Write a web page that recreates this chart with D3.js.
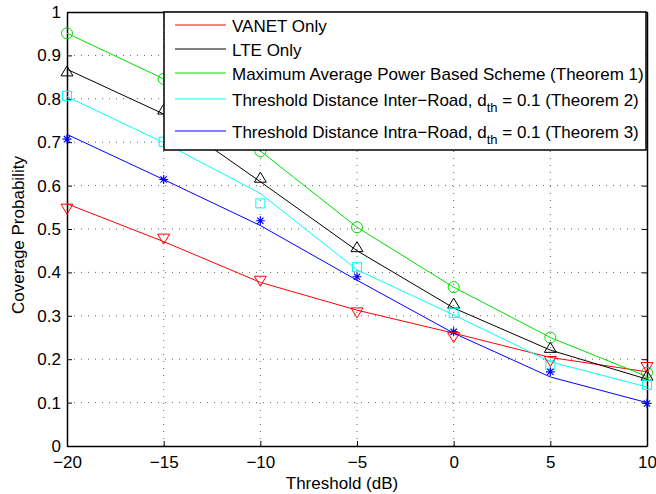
<!DOCTYPE html>
<html>
<head>
<meta charset="utf-8">
<script src="https://cdn.jsdelivr.net/npm/d3@7"></script>
<style>
  html, body { margin: 0; padding: 0; background: #fff; }
  svg { display: block; font-family: "Liberation Sans", Arial, Helvetica, sans-serif; }
</style>
</head>
<body>
<svg id="chart" width="656" height="494"></svg>
<script>
// SINR threshold values (dB)
const thresholds = [-20, -15, -10, -5, 0, 5, 10];

// Analytical curves (lines)
const vanetLine   = [0.558, 0.471, 0.377, 0.313, 0.260, 0.204, 0.171];
const lteLine     = [0.868, 0.765, 0.609, 0.450, 0.318, 0.221, 0.154];
const maxPowLine  = [0.951, 0.846, 0.680, 0.504, 0.366, 0.250, 0.160];
const interLine   = [0.805, 0.699, 0.582, 0.406, 0.302, 0.194, 0.136];
const intraLine   = [0.718, 0.614, 0.508, 0.382, 0.260, 0.159, 0.100];

// Simulation results (markers)
const vanetSim    = [0.548, 0.479, 0.382, 0.309, 0.252, 0.197, 0.183];
const lteSim      = [0.862, 0.774, 0.617, 0.457, 0.327, 0.225, 0.161];
const maxPowSim   = [0.951, 0.846, 0.679, 0.504, 0.366, 0.250, 0.169];
const interSim    = [0.807, 0.701, 0.559, 0.412, 0.307, 0.187, 0.141];
const intraSim    = [0.707, 0.614, 0.519, 0.390, 0.263, 0.171, 0.098];

const xTicks = [-20, -15, -10, -5, 0, 5, 10];
const yTicks = [0, 0.1, 0.2, 0.3, 0.4, 0.5, 0.6, 0.7, 0.8, 0.9, 1];

const series = [
  { name: "VANET Only", color: "#ff0000", line: vanetLine, sim: vanetSim, marker: "triDown" },
  { name: "LTE Only", color: "#000000", line: lteLine, sim: lteSim, marker: "triUp" },
  { name: "Maximum Average Power Based Scheme (Theorem 1)", color: "#00dd00", line: maxPowLine, sim: maxPowSim, marker: "circle" },
  { name: "Threshold Distance Inter\u2212Road, ", sub: true, tail: " = 0.1 (Theorem 2)", color: "#00ffff", line: interLine, sim: interSim, marker: "square" },
  { name: "Threshold Distance Intra\u2212Road, ", sub: true, tail: " = 0.1 (Theorem 3)", color: "#0000ff", line: intraLine, sim: intraSim, marker: "star" }
];

const svg = d3.select("#chart");
const plotL = 67, plotR = 647, plotT = 12, plotB = 446;
const FS = 17;

const x = d3.scaleLinear().domain([-20, 10]).range([plotL, plotR]);
const y = d3.scaleLinear().domain([0, 1]).range([plotB, plotT]);

// dotted grid
const grid = svg.append("g").attr("stroke", "#666").attr("stroke-width", 1)
  .attr("stroke-dasharray", "1,6");
xTicks.slice(1, -1).forEach(t => {
  grid.append("line").attr("x1", x(t)).attr("x2", x(t)).attr("y1", plotB).attr("y2", plotT);
});
yTicks.slice(1, -1).forEach(t => {
  grid.append("line").attr("x1", plotL).attr("x2", plotR).attr("y1", y(t)).attr("y2", y(t));
});

// axes with inward ticks on all four sides
const tickLen = 5;
const axB = svg.append("g").attr("transform", `translate(0,${plotB})`)
  .call(d3.axisBottom(x).tickValues(xTicks).tickSizeInner(-tickLen).tickSizeOuter(0).tickPadding(10)
    .tickFormat(d => d < 0 ? "\u2212" + Math.abs(d) : d));
const axL = svg.append("g").attr("transform", `translate(${plotL},0)`)
  .call(d3.axisLeft(y).tickValues(yTicks).tickSizeInner(-tickLen).tickSizeOuter(0).tickPadding(6)
    .tickFormat(d => d === 0 || d === 1 ? d3.format("d")(d) : d3.format(".1f")(d)));
const axT = svg.append("g").attr("transform", `translate(0,${plotT})`)
  .call(d3.axisTop(x).tickValues(xTicks).tickSizeInner(-tickLen).tickSizeOuter(0).tickFormat(""));
const axR = svg.append("g").attr("transform", `translate(${plotR},0)`)
  .call(d3.axisRight(y).tickValues(yTicks).tickSizeInner(-tickLen).tickSizeOuter(0).tickFormat(""));
[axB, axL, axT, axR].forEach(a => {
  a.selectAll(".domain").attr("stroke", "#000").attr("stroke-width", 1.5);
  a.selectAll(".tick line").attr("stroke", "#000");
  a.selectAll("text").attr("fill", "#000").attr("font-size", FS)
    .attr("font-family", "'Liberation Sans', Arial, sans-serif");
});

// analytical lines
const lineGen = d3.line().x((d, i) => x(thresholds[i])).y(d => y(d));
series.forEach(s => {
  svg.append("path").datum(s.line).attr("d", lineGen)
    .attr("fill", "none").attr("stroke", s.color).attr("stroke-width", 1);
});

// simulation markers
function drawMarker(g, type, cx, cy, color) {
  if (type === "circle") {
    g.append("circle").attr("cx", cx).attr("cy", cy).attr("r", 5.5)
      .attr("fill", "none").attr("stroke", color);
  } else if (type === "square") {
    g.append("rect").attr("x", cx - 4.5).attr("y", cy - 4.5).attr("width", 9).attr("height", 9)
      .attr("fill", "none").attr("stroke", color);
  } else if (type === "triUp") {
    g.append("path").attr("d", `M${cx},${cy - 6}L${cx + 6},${cy + 4}L${cx - 6},${cy + 4}Z`)
      .attr("fill", "none").attr("stroke", color);
  } else if (type === "triDown") {
    g.append("path").attr("d", `M${cx},${cy + 6}L${cx + 6},${cy - 4}L${cx - 6},${cy - 4}Z`)
      .attr("fill", "none").attr("stroke", color);
  } else if (type === "star") {
    const p = 4.5;
    g.append("path")
      .attr("d", `M${cx - p},${cy}L${cx + p},${cy}M${cx},${cy - p}L${cx},${cy + p}` +
        `M${cx - p * 0.7},${cy - p * 0.7}L${cx + p * 0.7},${cy + p * 0.7}` +
        `M${cx - p * 0.7},${cy + p * 0.7}L${cx + p * 0.7},${cy - p * 0.7}`)
      .attr("fill", "none").attr("stroke", color).attr("stroke-width", 1.2);
  }
}
const markerOrder = [2, 1, 3, 4, 0];
markerOrder.forEach(k => {
  const s = series[k];
  const g = svg.append("g");
  s.sim.forEach((v, i) => drawMarker(g, s.marker, x(thresholds[i]), y(v), s.color));
});

// legend
const lg = svg.append("g");
lg.append("rect").attr("x", 164).attr("y", 12).attr("width", 482).attr("height", 138)
  .attr("fill", "#fff").attr("stroke", "#000").attr("stroke-width", 1.5);
const rowY = [25, 49, 73, 99, 131];
series.forEach((s, i) => {
  lg.append("line").attr("x1", 175).attr("x2", 226).attr("y1", rowY[i]).attr("y2", rowY[i])
    .attr("stroke", s.color).attr("stroke-width", 1);
  const t = lg.append("text").attr("x", 232).attr("y", rowY[i] + 7)
    .attr("font-size", FS).attr("fill", "#000");
  t.append("tspan").text(s.name + (s.sub ? "d" : ""));
  if (s.sub) {
    t.append("tspan").attr("dy", 6).attr("font-size", 13).text("th");
    t.append("tspan").attr("dy", -6).text(s.tail);
  }
});

// axis titles
svg.append("text").attr("x", (plotL + plotR) / 2 - 15).attr("y", 489).attr("text-anchor", "middle")
  .attr("font-size", FS).attr("fill", "#000").text("Threshold (dB)");
svg.append("text").attr("transform", `translate(24,${(plotT + plotB) / 2 + 6}) rotate(-90)`)
  .attr("text-anchor", "middle").attr("font-size", FS).attr("fill", "#000").text("Coverage Probability");
</script>
</body>
</html>
